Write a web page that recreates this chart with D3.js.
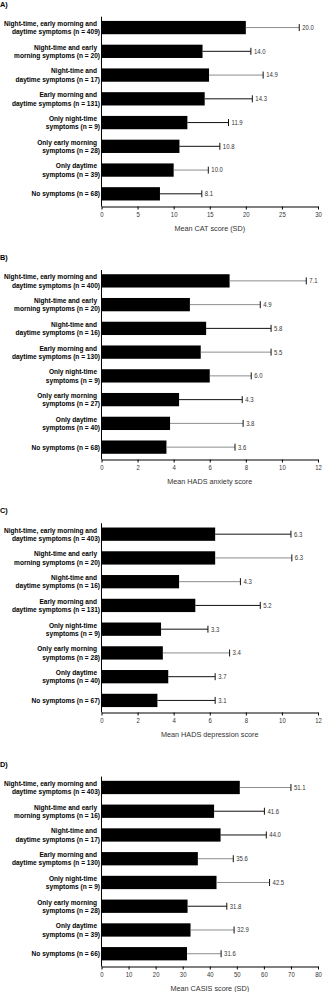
<!DOCTYPE html>
<html>
<head>
<meta charset="utf-8">
<script src="https://cdn.jsdelivr.net/npm/d3@7/dist/d3.min.js"></script>
<style>
  html, body { margin: 0; padding: 0; background: #fff; }
  svg { display: block; font-family: "Liberation Sans", Arial, Helvetica, sans-serif; }
</style>
</head>
<body>
<div id="chart"></div>
<script>
// symptom groups (label lines), same order in every panel
const groupLines = [
  ["Night-time, early morning and", "daytime symptoms"],
  ["Night-time and early", "morning symptoms"],
  ["Night-time and", "daytime symptoms"],
  ["Early morning and", "daytime symptoms"],
  ["Only night-time", "symptoms"],
  ["Only early morning", "symptoms"],
  ["Only daytime", "symptoms"],
  ["No symptoms"]
];

// A) CAT
const catN = [409, 20, 17, 131, 9, 28, 39, 68];
const catMean = [20.0, 14.0, 14.9, 14.3, 11.9, 10.8, 10.0, 8.1];
const catSd = [7.4, 6.7, 7.5, 6.6, 5.7, 5.6, 4.8, 5.8];
const catTicks = [0, 5, 10, 15, 20, 25, 30];

// B) HADS anxiety
const anxN = [400, 20, 16, 130, 9, 27, 40, 68];
const anxMean = [7.1, 4.9, 5.8, 5.5, 6.0, 4.3, 3.8, 3.6];
const anxSd = [4.25, 3.9, 3.6, 3.9, 2.3, 3.5, 4.05, 3.8];
const anxTicks = [0, 2, 4, 6, 8, 10, 12];

// C) HADS depression
const depN = [403, 20, 16, 131, 9, 28, 40, 67];
const depMean = [6.3, 6.3, 4.3, 5.2, 3.3, 3.4, 3.7, 3.1];
const depSd = [4.2, 4.25, 3.4, 3.6, 2.6, 3.7, 2.6, 3.2];
const depTicks = [0, 2, 4, 6, 8, 10, 12];

// D) CASIS
const casN = [403, 16, 17, 130, 9, 28, 39, 66];
const casMean = [51.1, 41.6, 44.0, 35.6, 42.5, 31.8, 32.9, 31.6];
const casSd = [18.9, 18.6, 16.9, 13.1, 19.6, 14.5, 16.1, 12.6];
const casTicks = [0, 10, 20, 30, 40, 50, 60, 70, 80];

// error bar tone per bar (g = grey, k = black), as it appears in the figure
const catTone = ["g", "k", "g", "k", "k", "k", "g", "k"];
const anxTone = ["g", "g", "k", "g", "g", "k", "g", "g"];
const depTone = ["k", "g", "g", "k", "k", "g", "k", "k"];
const casTone = ["g", "k", "k", "g", "g", "k", "g", "g"];

const panels = [
  { letter: "A)", n: catN, mean: catMean, sd: catSd, ticks: catTicks, tone: catTone, title: "Mean CAT score (SD)" },
  { letter: "B)", n: anxN, mean: anxMean, sd: anxSd, ticks: anxTicks, tone: anxTone, title: "Mean HADS anxiety score" },
  { letter: "C)", n: depN, mean: depMean, sd: depSd, ticks: depTicks, tone: depTone, title: "Mean HADS depression score" },
  { letter: "D)", n: casN, mean: casMean, sd: casSd, ticks: casTicks, tone: casTone, title: "Mean CASIS score (SD)" }
];

const W = 323, H = 992;
const axisX = 101.5, plotW = 216.5;
const firstTop = 15.7, panelStep = 253.3, bandH = 190;
const toneColor = { g: "#8c8c8c", k: "#111" };
// the figure uses a narrow face; squeeze Liberation Sans horizontally
const squeeze = 0.88;
const fmt = d3.format(".1f");

const svg = d3.select("#chart").append("svg")
  .attr("width", W)
  .attr("height", H);

svg.append("rect").attr("width", W).attr("height", H).attr("fill", "#fff");

function drawPanel(p, i) {
  const top = firstTop + i * panelStep;
  const base = Math.round(top + bandH) + 0.5;
  const g = svg.append("g").attr("class", "panel");

  const x = d3.scaleLinear()
    .domain([0, d3.max(p.ticks)])
    .range([axisX, axisX + plotW]);

  const y = d3.scaleBand()
    .domain(d3.range(p.mean.length))
    .range([top, top + bandH])
    .paddingInner(0.44)
    .paddingOuter(0.22);

  const cy = d => y(d) + y.bandwidth() / 2;

  // panel letter
  g.append("text")
    .attr("x", 0)
    .attr("y", top - 9)
    .attr("font-size", 7.3)
    .attr("font-weight", "bold")
    .text(p.letter);

  const idx = d3.range(p.mean.length);

  // bars
  g.selectAll("rect.bar").data(idx).join("rect")
    .attr("class", "bar")
    .attr("x", axisX)
    .attr("y", d => y(d))
    .attr("width", d => x(p.mean[d]) - axisX)
    .attr("height", y.bandwidth())
    .attr("fill", "#000");

  // error whiskers + caps
  g.selectAll("line.err").data(idx).join("line")
    .attr("class", "err")
    .attr("x1", d => x(p.mean[d]))
    .attr("x2", d => x(p.mean[d] + p.sd[d]))
    .attr("y1", cy).attr("y2", cy)
    .attr("stroke", d => toneColor[p.tone[d]])
    .attr("stroke-width", 1);

  g.selectAll("line.cap").data(idx).join("line")
    .attr("class", "cap")
    .attr("x1", d => x(p.mean[d] + p.sd[d]))
    .attr("x2", d => x(p.mean[d] + p.sd[d]))
    .attr("y1", d => cy(d) - 3.5)
    .attr("y2", d => cy(d) + 3.5)
    .attr("stroke", "#111")
    .attr("stroke-width", 1);

  // mean value next to the cap
  g.selectAll("text.val").data(idx).join("text")
    .attr("class", "val")
    .attr("transform", d => "translate(" + (x(p.mean[d] + p.sd[d]) + 3) + "," + cy(d) + ") scale(" + squeeze + ",1)")
    .attr("dy", "0.35em")
    .attr("font-size", 6.8)
    .attr("fill", "#333")
    .text(d => fmt(p.mean[d]));

  // category labels, one or two lines
  const lab = g.selectAll("text.cat").data(idx).join("text")
    .attr("class", "cat")
    .attr("transform", d => "translate(100," + cy(d) + ") scale(0.9,1)")
    .attr("text-anchor", "end")
    .attr("font-size", 7.3)
    .attr("font-weight", "bold")
    .attr("fill", "#000");

  lab.each(function (d) {
    const lines = groupLines[d].slice();
    lines[lines.length - 1] += " (n = " + p.n[d] + ")";
    const t = d3.select(this);
    if (lines.length === 1) {
      t.append("tspan").attr("x", 0).attr("y", 0).attr("dy", "0.35em").text(lines[0]);
    } else {
      t.append("tspan").attr("x", -3.3).attr("y", -4.15).attr("dy", "0.35em").text(lines[0]);
      t.append("tspan").attr("x", 0).attr("y", 4.15).attr("dy", "0.35em").text(lines[1]);
    }
  });

  // vertical axis line
  g.append("line")
    .attr("x1", axisX).attr("x2", axisX)
    .attr("y1", top + 1).attr("y2", base)
    .attr("stroke", "#000")
    .attr("stroke-width", 1);

  // x axis
  const xAxis = d3.axisBottom(x)
    .tickValues(p.ticks)
    .tickSize(3)
    .tickSizeOuter(0)
    .tickPadding(2.5);

  const axG = g.append("g")
    .attr("transform", "translate(0," + base + ")")
    .call(xAxis);

  axG.attr("font-family", null).attr("font-size", null);
  axG.select(".domain").attr("stroke", "#000").attr("stroke-width", 1);
  axG.selectAll(".tick line").attr("stroke", "#000");
  axG.selectAll(".tick text")
    .attr("font-size", 6.8)
    .attr("transform", "scale(" + squeeze + ",1)")
    .attr("fill", "#333");

  // axis title
  g.append("text")
    .attr("transform", "translate(" + (axisX + plotW / 2) + "," + (base + 24.5) + ") scale(0.92,1)")
    .attr("text-anchor", "middle")
    .attr("font-size", 7.9)
    .attr("fill", "#333")
    .text(p.title);
}

panels.forEach(drawPanel);
</script>
</body>
</html>
